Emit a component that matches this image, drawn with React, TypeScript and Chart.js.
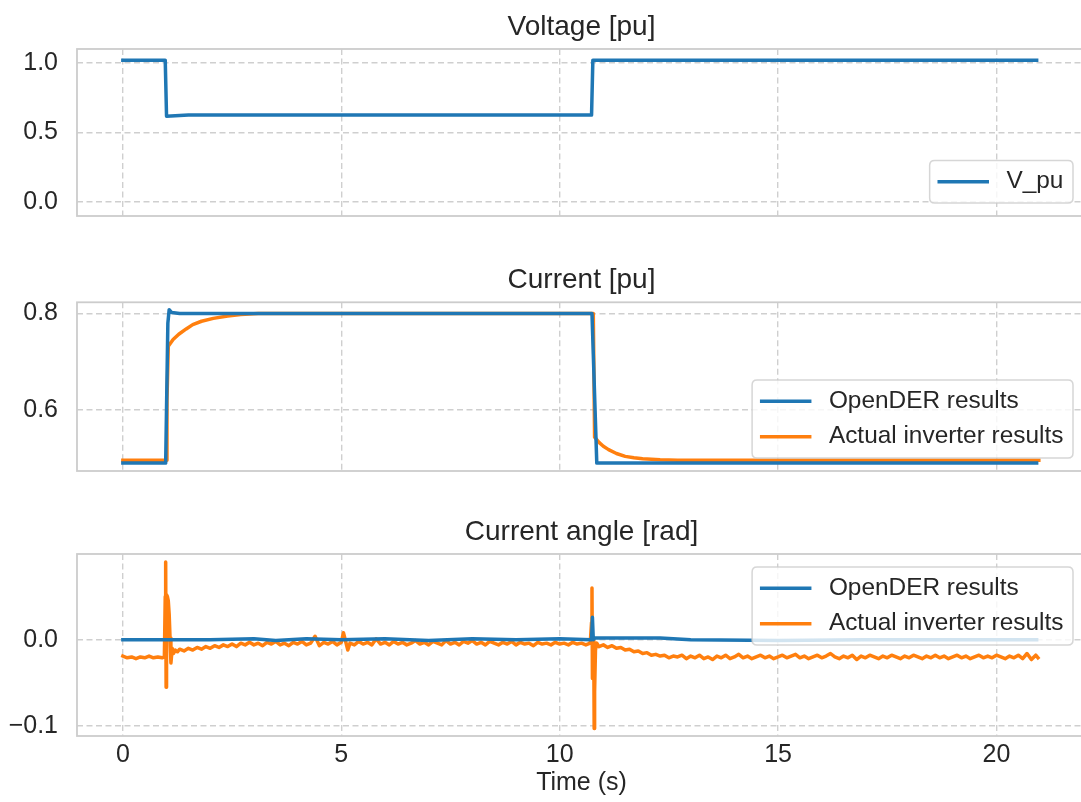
import React, { useEffect, useRef } from 'react';
import { Chart, registerables } from 'chart.js';

Chart.register(...registerables);

const FONT = '"Liberation Sans", Arial, Helvetica, sans-serif';
const TEXT = '#262626';
const GRID = '#cfcfcf';
const BLUE = '#1f77b4';
const ORANGE = '#ff7f0e';

// ---------- axes ----------
const X_MIN = -1.05;
const X_MAX = 22.05;
const X_TICKS = [0, 5, 10, 15, 20];
const X_LABELS = ['0', '5', '10', '15', '20'];

const Y_TICKS_V = [0, 0.5, 1.0];
const Y_LABELS_V = ['0.0', '0.5', '1.0'];
const Y_TICKS_I = [0.6, 0.8];
const Y_LABELS_I = ['0.6', '0.8'];
const Y_TICKS_A = [-0.1, 0.0];
const Y_LABELS_A = ['\u22120.1', '0.0'];

// ---------- data: [time s, value] ----------
const VOLTAGE = [
  [0, 1.02], [0.97, 1.02], [1.0, 0.617], [1.5, 0.625], [10.73, 0.625], [10.76, 1.02], [20.92, 1.02],
];

const CURRENT_OPENDER = [
  [0, 0.489], [0.98, 0.489], [1.03, 0.78], [1.06, 0.808], [1.12, 0.802], [1.3, 0.8],
  [10.74, 0.8], [10.85, 0.489], [20.92, 0.489],
];

const CURRENT_ACTUAL = [
  [0, 0.495], [0.99, 0.495], [1.01, 0.62], [1.04, 0.732], [1.15, 0.746], [1.28, 0.757],
  [1.45, 0.768], [1.6, 0.777], [1.8, 0.784], [2.07, 0.79], [2.4, 0.795], [2.7, 0.798],
  [3.1, 0.8], [10.77, 0.8], [10.8, 0.543], [10.9, 0.532], [11.0, 0.524], [11.12, 0.517],
  [11.3, 0.509], [11.5, 0.503], [11.7, 0.5], [11.9, 0.498], [12.3, 0.496], [12.7, 0.495],
  [20.97, 0.495],
];

const ANGLE_OPENDER = [
  [0, 0], [2, 0], [3, 0.001], [3.5, -0.001], [4.2, 0.001], [5, 0], [6, 0.001], [7, -0.001],
  [8, 0.001], [9, 0], [10, 0.001], [10.73, 0], [10.75, 0.026], [10.77, 0], [10.8, 0.002],
  [12.3, 0.002], [13, 0], [15, -0.001], [17, 0], [20.92, 0],
];

const ANGLE_ACTUAL = [
  [0, -0.019], [0.1, -0.021], [0.2, -0.02], [0.3, -0.022], [0.4, -0.02], [0.5, -0.021],
  [0.6, -0.019], [0.7, -0.021], [0.8, -0.02], [0.9, -0.021], [0.95, -0.02],
  [0.97, 0.05], [0.98, 0.09], [0.99, -0.055], [1.0, 0.052], [1.02, 0.05], [1.04, 0.045],
  [1.06, 0.03], [1.08, 0.002], [1.1, -0.027], [1.13, -0.01], [1.16, -0.016], [1.2, -0.012], [1.25, -0.014],
  [1.3, -0.011], [1.4, -0.013], [1.5, -0.01], [1.6, -0.012], [1.7, -0.009], [1.8, -0.011],
  [1.9, -0.008], [2.0, -0.01], [2.1, -0.007], [2.2, -0.009], [2.3, -0.006], [2.4, -0.008],
  [2.5, -0.005], [2.6, -0.008], [2.7, -0.004], [2.8, -0.006], [2.9, -0.003], [3.0, -0.006],
  [3.1, -0.004], [3.2, -0.007], [3.3, -0.003], [3.4, -0.005], [3.5, -0.002], [3.6, -0.006],
  [3.7, -0.004], [3.8, -0.007], [3.9, -0.003], [4.0, -0.005], [4.1, -0.002], [4.2, -0.006],
  [4.3, -0.004], [4.4, 0.004], [4.5, -0.007], [4.6, -0.003], [4.7, -0.005], [4.8, -0.002],
  [4.9, -0.006], [5.0, -0.003], [5.05, 0.008], [5.15, -0.012], [5.2, -0.004], [5.3, -0.006],
  [5.4, -0.002], [5.5, -0.005], [5.6, -0.003], [5.7, -0.006], [5.8, 0.001], [5.9, -0.005],
  [6.0, -0.003], [6.1, -0.006], [6.2, -0.002], [6.3, -0.005], [6.4, -0.003], [6.5, -0.006],
  [6.6, -0.004], [6.7, -0.001], [6.8, -0.005], [6.9, -0.003], [7.0, -0.006], [7.1, -0.002],
  [7.2, -0.004], [7.3, -0.006], [7.4, -0.001], [7.5, -0.005], [7.6, -0.003], [7.7, -0.006],
  [7.8, -0.002], [7.9, -0.004], [8.0, -0.001], [8.1, -0.005], [8.2, -0.003], [8.3, -0.006],
  [8.4, -0.002], [8.5, -0.004], [8.6, -0.006], [8.7, -0.003], [8.8, -0.005], [8.9, -0.002],
  [9.0, -0.006], [9.1, -0.003], [9.2, -0.005], [9.3, -0.004], [9.4, -0.007], [9.5, -0.003],
  [9.6, -0.005], [9.7, -0.004], [9.8, -0.006], [9.9, -0.003], [10.0, -0.005], [10.1, -0.004],
  [10.2, -0.006], [10.3, -0.003], [10.4, -0.005], [10.5, -0.004], [10.6, -0.006], [10.7, -0.004],
  [10.73, 0.02], [10.74, 0.06], [10.75, -0.045], [10.76, -0.045], [10.78, 0.0], [10.79, -0.103],
  [10.8, -0.06], [10.82, -0.012], [10.85, -0.004], [10.9, -0.008],
  [11.0, -0.006], [11.1, -0.009], [11.2, -0.007], [11.3, -0.01], [11.4, -0.009], [11.5, -0.012],
  [11.6, -0.011], [11.7, -0.014], [11.8, -0.013], [11.9, -0.016], [12.0, -0.015], [12.1, -0.018],
  [12.2, -0.017], [12.3, -0.019], [12.4, -0.018], [12.5, -0.021], [12.6, -0.019], [12.7, -0.02],
  [12.8, -0.018], [12.9, -0.022], [13.0, -0.019], [13.1, -0.021], [13.2, -0.018], [13.3, -0.022],
  [13.4, -0.02], [13.5, -0.023], [13.6, -0.019], [13.7, -0.021], [13.8, -0.018], [13.9, -0.022],
  [14.0, -0.02], [14.1, -0.017], [14.2, -0.021], [14.3, -0.019], [14.4, -0.022], [14.5, -0.02],
  [14.6, -0.018], [14.7, -0.021], [14.8, -0.019], [14.9, -0.022], [15.0, -0.02], [15.1, -0.018],
  [15.2, -0.021], [15.3, -0.019], [15.4, -0.017], [15.5, -0.021], [15.6, -0.019], [15.7, -0.022],
  [15.8, -0.02], [15.9, -0.018], [16.0, -0.021], [16.1, -0.019], [16.2, -0.016], [16.3, -0.02],
  [16.4, -0.022], [16.5, -0.019], [16.6, -0.021], [16.7, -0.018], [16.8, -0.023], [16.9, -0.019],
  [17.0, -0.021], [17.1, -0.018], [17.2, -0.02], [17.3, -0.022], [17.4, -0.019], [17.5, -0.021],
  [17.6, -0.018], [17.7, -0.02], [17.8, -0.022], [17.9, -0.019], [18.0, -0.021], [18.1, -0.018],
  [18.2, -0.02], [18.3, -0.022], [18.4, -0.019], [18.5, -0.021], [18.6, -0.018], [18.7, -0.021],
  [18.8, -0.019], [18.9, -0.022], [19.0, -0.02], [19.1, -0.018], [19.2, -0.021], [19.3, -0.019],
  [19.4, -0.022], [19.5, -0.02], [19.6, -0.018], [19.7, -0.021], [19.8, -0.019], [19.9, -0.021],
  [20.0, -0.018], [20.1, -0.02], [20.2, -0.022], [20.3, -0.019], [20.4, -0.021], [20.5, -0.018],
  [20.6, -0.022], [20.7, -0.016], [20.8, -0.023], [20.9, -0.018], [20.95, -0.021],
];

const LABEL_V = 'V_pu';
const LABEL_OD = 'OpenDER results';
const LABEL_ACT = 'Actual inverter results';

// ---------- plugins ----------
const framePlugin = {
  id: 'frame',
  afterDatasetsDraw(chart: any) {
    const { ctx, chartArea: a } = chart;
    ctx.save();
    ctx.strokeStyle = '#cccccc';
    ctx.lineWidth = 1.8;
    ctx.strokeRect(a.left, a.top, a.right - a.left, a.bottom - a.top);
    ctx.restore();
  },
};

const legendBoxPlugin = {
  id: 'legendBox',
  afterDatasetsDraw(chart: any, _args: any, opts: any) {
    if (!opts || !opts.corner) return;
    const { ctx, chartArea: a } = chart;
    const fs = 24.4;
    const pad = 9.6;
    const handle = 48;
    const gap = 19.2;
    const rowH = 23.4;
    const rowGap = 12;
    const edge = 13;
    const items = chart.data.datasets.map((d: any) => ({ label: d.label, color: d.borderColor }));
    ctx.save();
    ctx.font = `${fs}px ${FONT}`;
    const textW = Math.max(...items.map((it: any) => ctx.measureText(it.label).width));
    const w = pad + handle + gap + textW + pad;
    const h = pad * 2 + items.length * rowH + (items.length - 1) * rowGap;
    const x = a.right - edge - w;
    const y = opts.corner === 'top' ? a.top + edge : a.bottom - edge - h;
    const r = 5;
    ctx.beginPath();
    ctx.moveTo(x + r, y);
    ctx.lineTo(x + w - r, y);
    ctx.quadraticCurveTo(x + w, y, x + w, y + r);
    ctx.lineTo(x + w, y + h - r);
    ctx.quadraticCurveTo(x + w, y + h, x + w - r, y + h);
    ctx.lineTo(x + r, y + h);
    ctx.quadraticCurveTo(x, y + h, x, y + h - r);
    ctx.lineTo(x, y + r);
    ctx.quadraticCurveTo(x, y, x + r, y);
    ctx.closePath();
    ctx.globalAlpha = 0.8;
    ctx.fillStyle = '#ffffff';
    ctx.fill();
    ctx.strokeStyle = '#cccccc';
    ctx.lineWidth = 1.5;
    ctx.stroke();
    ctx.globalAlpha = 1;
    items.forEach((it: any, i: number) => {
      const cy = y + pad + rowH / 2 + i * (rowH + rowGap);
      ctx.strokeStyle = it.color;
      ctx.lineWidth = 3.5;
      ctx.lineCap = 'square';
      ctx.beginPath();
      ctx.moveTo(x + pad, cy);
      ctx.lineTo(x + pad + handle, cy);
      ctx.stroke();
      ctx.fillStyle = TEXT;
      ctx.textAlign = 'left';
      ctx.textBaseline = 'middle';
      ctx.fillText(it.label, x + pad + handle + gap, cy);
    });
    ctx.restore();
  },
};

const toXY = (arr: number[][]) => arr.map(([x, y]) => ({ x, y }));

const lineDs = (label: string, color: string, arr: number[][]) => ({
  label,
  data: toXY(arr),
  borderColor: color,
  backgroundColor: color,
  borderWidth: 3.5,
  pointRadius: 0,
  pointHoverRadius: 0,
  tension: 0,
  fill: false,
  borderJoinStyle: 'round',
  borderCapStyle: 'square',
});

function buildConfig(p: any) {
  return {
    type: 'line',
    data: { datasets: p.datasets },
    plugins: [framePlugin, legendBoxPlugin],
    options: {
      responsive: false,
      animation: false,
      events: [],
      parsing: false,
      layout: { padding: { left: 0, right: 4, top: 0, bottom: 0 } },
      plugins: {
        legend: { display: false },
        tooltip: { enabled: false },
        title: {
          display: true,
          fullSize: false,
          text: p.title,
          color: TEXT,
          font: { family: FONT, size: 28, weight: 'normal', lineHeight: 1.2 },
          padding: { top: p.titleTop, bottom: 5.2 },
        },
        legendBox: { corner: p.legendCorner },
      },
      scales: {
        x: {
          type: 'linear',
          min: X_MIN,
          max: X_MAX,
          afterBuildTicks: (s: any) => {
            s.ticks = X_TICKS.map((v) => ({ value: v }));
          },
          afterFit: (s: any) => {
            s.height = p.xHeight;
          },
          ticks: {
            display: p.showX,
            autoSkip: false,
            maxRotation: 0,
            color: TEXT,
            padding: 4,
            font: { family: FONT, size: 25 },
            callback: (_v: any, i: number) => X_LABELS[i],
          },
          grid: { color: GRID, lineWidth: 1.4, drawTicks: false },
          border: { display: false, dash: [6, 3.5] },
          title: p.showX
            ? {
                display: true,
                text: 'Time (s)',
                color: TEXT,
                font: { family: FONT, size: 25, lineHeight: 1.2 },
                padding: { top: 0, bottom: 3.5 },
              }
            : { display: false },
        },
        y: {
          type: 'linear',
          min: p.yMin,
          max: p.yMax,
          afterBuildTicks: (s: any) => {
            s.ticks = p.yTicks.map((v: number) => ({ value: v }));
          },
          afterFit: (s: any) => {
            s.width = 77;
          },
          ticks: {
            autoSkip: false,
            color: TEXT,
            padding: 19,
            font: { family: FONT, size: 25 },
            callback: (_v: any, i: number) => p.yLabels[i],
          },
          grid: { color: GRID, lineWidth: 1.4, drawTicks: false },
          border: { display: false, dash: [6, 3.5] },
        },
      },
    },
  };
}

function Panel({ top, height, cfg }: { top: number; height: number; cfg: () => any }) {
  const ref = useRef<HTMLCanvasElement | null>(null);
  useEffect(() => {
    if (!ref.current) return;
    const chart = new Chart(ref.current, cfg() as any);
    return () => chart.destroy();
  }, []);
  return (
    <div style={{ position: 'absolute', left: 0, top, width: 1090, height }}>
      <canvas ref={ref} width={1090} height={height} style={{ display: 'block', width: 1090, height }} />
    </div>
  );
}

export default function App() {
  return (
    <div
      style={{
        position: 'absolute',
        left: 0,
        top: 0,
        width: 1081,
        height: 802,
        overflow: 'hidden',
        background: '#ffffff',
      }}
    >
      <Panel
        top={0}
        height={250}
        cfg={() =>
          buildConfig({
            title: 'Voltage [pu]',
            titleTop: 10.2,
            xHeight: 19,
            showX: false,
            yMin: -0.1,
            yMax: 1.1,
            yTicks: Y_TICKS_V,
            yLabels: Y_LABELS_V,
            legendCorner: 'bottom',
            datasets: [lineDs(LABEL_V, BLUE, VOLTAGE)],
          })
        }
      />
      <Panel
        top={250}
        height={255}
        cfg={() =>
          buildConfig({
            title: 'Current [pu]',
            titleTop: 13.5,
            xHeight: 22,
            showX: false,
            yMin: 0.4726,
            yMax: 0.8234,
            yTicks: Y_TICKS_I,
            yLabels: Y_LABELS_I,
            legendCorner: 'bottom',
            datasets: [lineDs(LABEL_OD, BLUE, CURRENT_OPENDER), lineDs(LABEL_ACT, ORANGE, CURRENT_ACTUAL)],
          })
        }
      />
      <Panel
        top={505}
        height={297}
        cfg={() =>
          buildConfig({
            title: 'Current angle [rad]',
            titleTop: 10.2,
            xHeight: 66,
            showX: true,
            yMin: -0.1116,
            yMax: 0.0993,
            yTicks: Y_TICKS_A,
            yLabels: Y_LABELS_A,
            legendCorner: 'top',
            datasets: [lineDs(LABEL_OD, BLUE, ANGLE_OPENDER), lineDs(LABEL_ACT, ORANGE, ANGLE_ACTUAL)],
          })
        }
      />
    </div>
  );
}
